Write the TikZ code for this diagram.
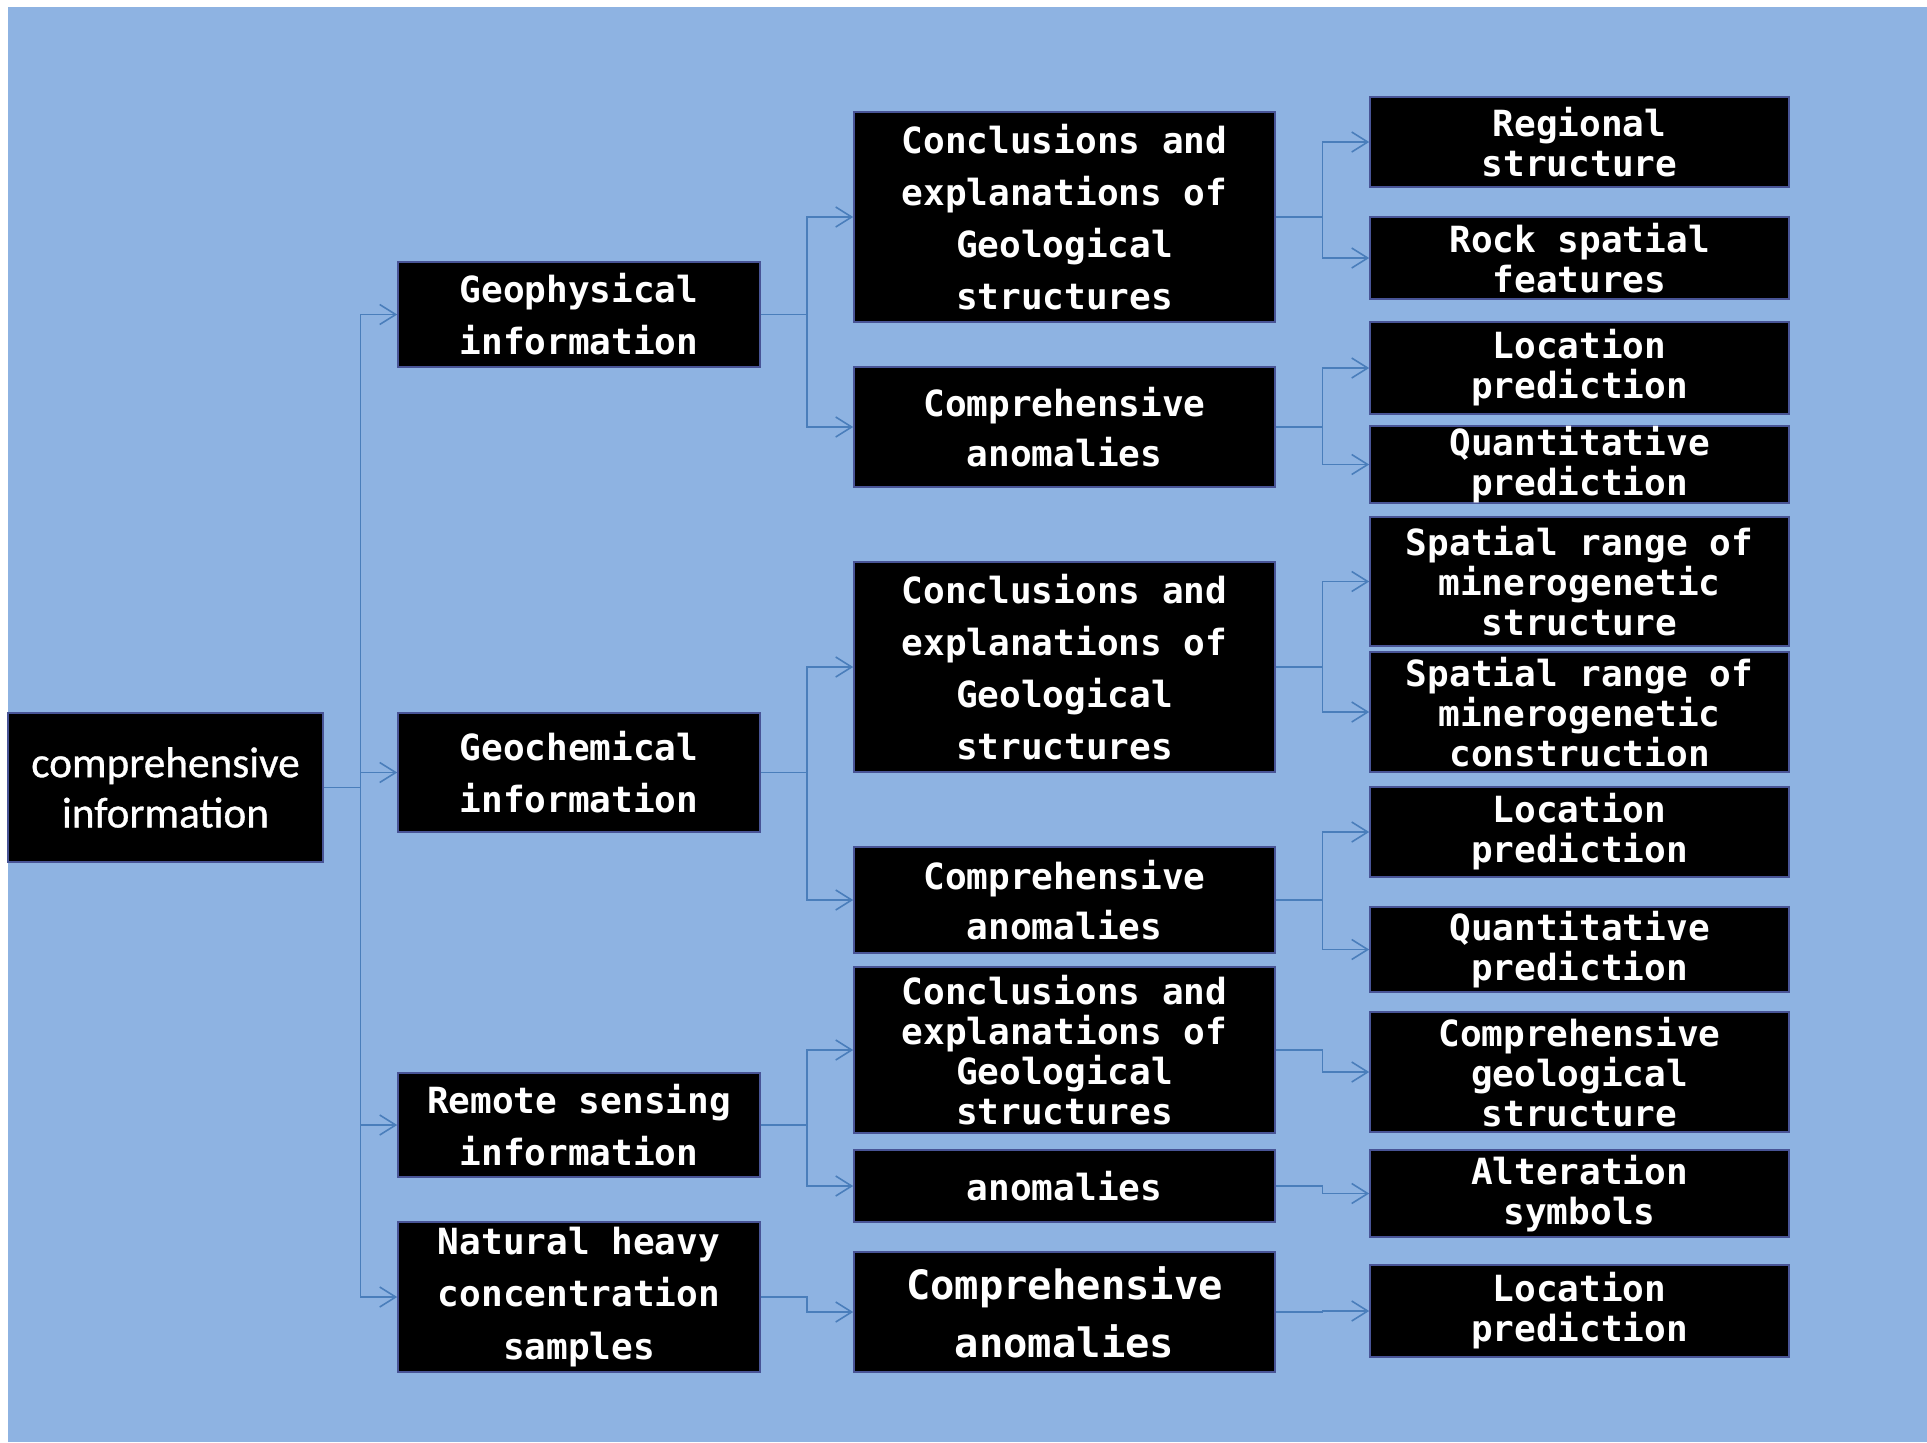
\documentclass[tikz,border=0pt]{standalone}
\usepackage{fontspec}
\setmainfont{Carlito}
\newfontfamily\monofont{DejaVu Sans Mono}
\newfontfamily\rootfont{Carlito}[FakeBold=0.8]
\usetikzlibrary{arrows.meta,calc}
\definecolor{bgblue}{RGB}{142,179,226}
\definecolor{linkblue}{RGB}{74,126,187}
\definecolor{edgeblue}{RGB}{72,84,150}

\begin{document}
\begin{tikzpicture}[x=0.01cm, y=-0.01cm, >={Straight Barb[length=1.6mm,width=2mm]},
	box/.style={draw=edgeblue, line width=0.4pt, fill=black, text=white, inner sep=0pt, align=center, font=\monofont\bfseries\fontsize{10.25}{14.8}\selectfont},
	tight/.style={font=\monofont\bfseries\fontsize{10.25}{11.4}\selectfont},
	col1/.style={box, minimum width=3.62cm},
	col2/.style={box, minimum width=4.21cm},
	col3/.style={box, tight, minimum width=4.19cm},
	conn/.style={->, draw=linkblue, line width=0.45pt},
	elbow/.style={to path={-| ($(\tikztostart)!0.5!(\tikztotarget)$) |- (\tikztotarget)}}]
	\useasboundingbox (0,0) rectangle (1927,1442);
	\fill[bgblue] (8,7) rectangle (1927,1442);
	% root
	\node[box, minimum width=3.15cm, minimum height=1.49cm, font=\rootfont\fontsize{12.3}{14.3}\selectfont] (root) at (165.5,787.5) {comprehensive\\ information};
	% information sources
	\node[col1, minimum height=1.05cm] (geo) at (579,314.5) {Geophysical\\ information};
	\node[col1, minimum height=1.19cm] (chem) at (579,772.5) {Geochemical\\ information};
	\node[col1, minimum height=1.04cm] (rs) at (579,1125) {Remote sensing\\ information};
	\node[col1, minimum height=1.50cm] (heavy) at (579,1297) {Natural heavy\\ concentration\\ samples};
	% interpretation
	\node[col2, minimum height=2.10cm] (concA) at (1064.5,217) {Conclusions and\\ explanations of\\ Geological\\ structures};
	\node[col2, minimum height=1.20cm, font=\monofont\bfseries\fontsize{10.25}{14.2}\selectfont] (anomA) at (1064.5,427) {Comprehensive\\ anomalies};
	\node[col2, minimum height=2.10cm] (concB) at (1064.5,667) {Conclusions and\\ explanations of\\ Geological\\ structures};
	\node[col2, minimum height=1.06cm, font=\monofont\bfseries\fontsize{10.25}{14.2}\selectfont] (anomB) at (1064.5,900) {Comprehensive\\ anomalies};
	\node[col2, tight, minimum height=1.66cm] (concC) at (1064.5,1050) {Conclusions and\\ explanations of\\ Geological\\ structures};
	\node[col2, minimum height=0.72cm] (anomC) at (1064.5,1186) {anomalies};
	\node[col2, minimum height=1.20cm, font=\monofont\bfseries\fontsize{11.5}{16.5}\selectfont] (anomD) at (1064.5,1312) {Comprehensive\\ anomalies};
	% results
	\node[col3, minimum height=0.90cm] (reg) at (1579.5,142) {Regional\\ structure};
	\node[col3, minimum height=0.82cm] (rock) at (1579.5,258) {Rock spatial\\ features};
	\node[col3, minimum height=0.92cm] (locA) at (1579.5,368) {Location\\ prediction};
	\node[col3, minimum height=0.75cm] (quantA) at (1579.5,464.5) {Quantitative\\ prediction};
	\node[col3, minimum height=1.29cm] (spA) at (1579.5,581.5) {Spatial range of\\ minerogenetic\\ structure};
	\node[col3, minimum height=1.20cm] (spB) at (1579.5,712) {Spatial range of\\ minerogenetic\\ construction};
	\node[col3, minimum height=0.90cm] (locB) at (1579.5,832) {Location\\ prediction};
	\node[col3, minimum height=0.85cm] (quantB) at (1579.5,949.5) {Quantitative\\ prediction};
	\node[col3, minimum height=1.20cm] (cgeo) at (1579.5,1072) {Comprehensive\\ geological\\ structure};
	\node[col3, minimum height=0.87cm] (alt) at (1579.5,1193.5) {Alteration\\ symbols};
	\node[col3, minimum height=0.92cm] (locC) at (1579.5,1311) {Location\\ prediction};
	% connectors
	\draw[conn] (root.east) to[elbow] (geo.west);
	\draw[conn] (root.east) to[elbow] (chem.west);
	\draw[conn] (root.east) to[elbow] (rs.west);
	\draw[conn] (root.east) to[elbow] (heavy.west);
	\draw[conn] (geo.east) to[elbow] (concA.west);
	\draw[conn] (geo.east) to[elbow] (anomA.west);
	\draw[conn] (chem.east) to[elbow] (concB.west);
	\draw[conn] (chem.east) to[elbow] (anomB.west);
	\draw[conn] (rs.east) to[elbow] (concC.west);
	\draw[conn] (rs.east) to[elbow] (anomC.west);
	\draw[conn] (heavy.east) to[elbow] (anomD.west);
	\draw[conn] (concA.east) to[elbow] (reg.west);
	\draw[conn] (concA.east) to[elbow] (rock.west);
	\draw[conn] (anomA.east) to[elbow] (locA.west);
	\draw[conn] (anomA.east) to[elbow] (quantA.west);
	\draw[conn] (concB.east) to[elbow] (spA.west);
	\draw[conn] (concB.east) to[elbow] (spB.west);
	\draw[conn] (anomB.east) to[elbow] (locB.west);
	\draw[conn] (anomB.east) to[elbow] (quantB.west);
	\draw[conn] (concC.east) to[elbow] (cgeo.west);
	\draw[conn] (anomC.east) to[elbow] (alt.west);
	\draw[conn] (anomD.east) to[elbow] (locC.west);
\end{tikzpicture}
\end{document}
